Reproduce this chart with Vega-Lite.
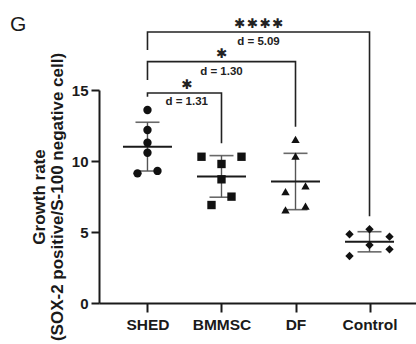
{
  "$schema": "https://vega.github.io/schema/vega-lite/v6.json",
  "width": 319,
  "height": 213,
  "autosize": {"type": "none"},
  "padding": {"left": 99, "top": 90, "right": 0, "bottom": 41},
  "background": "white",
  "config": {
    "view": {"stroke": null},
    "font": "Liberation Sans",
    "title": {"fontSize": 21, "fontWeight": "normal", "color": "#1a1a1a"}
  },
  "title": {"text": "G", "anchor": "start", "frame": "group", "dx": -89, "dy": 22},
  "datasets": {
    "cells": [
      {"group": "SHED", "lane": 0, "value": 13.59},
      {"group": "SHED", "lane": 0, "value": 12.18},
      {"group": "SHED", "lane": 0, "value": 11.29},
      {"group": "SHED", "lane": 0, "value": 10.58},
      {"group": "SHED", "lane": -1, "value": 9.13},
      {"group": "SHED", "lane": 1, "value": 9.30},
      {"group": "BMMSC", "lane": -2, "value": 10.30},
      {"group": "BMMSC", "lane": 0, "value": 9.79},
      {"group": "BMMSC", "lane": 2, "value": 10.30},
      {"group": "BMMSC", "lane": 0, "value": 8.71},
      {"group": "BMMSC", "lane": 1, "value": 7.49},
      {"group": "BMMSC", "lane": -1, "value": 6.90},
      {"group": "DF", "lane": 0, "value": 11.53},
      {"group": "DF", "lane": 0, "value": 10.35},
      {"group": "DF", "lane": 1, "value": 8.24},
      {"group": "DF", "lane": -1, "value": 7.84},
      {"group": "DF", "lane": 1, "value": 6.83},
      {"group": "DF", "lane": -1, "value": 6.55},
      {"group": "Control", "lane": -2, "value": 4.84},
      {"group": "Control", "lane": 0, "value": 5.19},
      {"group": "Control", "lane": 2, "value": 4.67},
      {"group": "Control", "lane": 0, "value": 4.08},
      {"group": "Control", "lane": 2, "value": 3.78},
      {"group": "Control", "lane": -2, "value": 3.31}
    ],
    "brackets": [
      {"pair": "BMMSC", "step": 0, "pos": 1, "y": 14.53},
      {"pair": "BMMSC", "step": 1, "pos": 1, "y": 14.79},
      {"pair": "BMMSC", "step": 2, "pos": 2, "y": 14.79},
      {"pair": "BMMSC", "step": 3, "pos": 2, "y": 11.25},
      {"pair": "DF", "step": 0, "pos": 1, "y": 15.70},
      {"pair": "DF", "step": 1, "pos": 1, "y": 17.0},
      {"pair": "DF", "step": 2, "pos": 3, "y": 17.0},
      {"pair": "DF", "step": 3, "pos": 3, "y": 12.42},
      {"pair": "Control", "step": 0, "pos": 1, "y": 17.82},
      {"pair": "Control", "step": 1, "pos": 1, "y": 19.08},
      {"pair": "Control", "step": 2, "pos": 4, "y": 19.08},
      {"pair": "Control", "step": 3, "pos": 4, "y": 6.11}
    ],
    "labels": [
      {"pair": "BMMSC", "mid": 1.53, "stars": "✱", "starY": 15.35, "d": "d = 1.31", "dY": 14.15},
      {"pair": "DF", "mid": 2.0, "stars": "✱", "starY": 17.51, "d": "d = 1.30", "dY": 16.25},
      {"pair": "Control", "mid": 2.5, "stars": "✱\u200a✱\u200a✱\u200a✱", "starY": 19.65, "d": "d = 5.09", "dY": 18.36}
    ]
  },
  "layer": [
    {
      "data": {"name": "cells"},
      "encoding": {
        "x": {
          "field": "group", "type": "nominal",
          "scale": {"type": "point", "padding": 0.655, "domain": ["SHED", "BMMSC", "DF", "Control"]},
          "axis": {
            "title": null, "labelAngle": 0, "labelFontSize": 15.5, "labelFontWeight": "bold",
            "labelColor": "#1a1a1a", "labelPadding": 5, "tickSize": 9, "tickWidth": 2,
            "tickColor": "#1a1a1a", "domainColor": "#1a1a1a", "domainWidth": 2
          }
        },
        "y": {
          "field": "value", "type": "quantitative",
          "scale": {"domain": [0, 15], "nice": false, "zero": true},
          "axis": {
            "values": [0, 5, 10, 15], "grid": false,
            "title": ["Growth rate", "(SOX-2 positive/S-100 negative cell)"],
            "titleFontSize": 17, "titleFontWeight": "bold", "titleColor": "#1a1a1a",
            "titlePadding": 5, "titleLineHeight": 18,
            "labelFontSize": 15, "labelFontWeight": "bold", "labelColor": "#1a1a1a",
            "labelPadding": 3, "tickSize": 8, "tickWidth": 2, "tickColor": "#1a1a1a",
            "domainColor": "#1a1a1a", "domainWidth": 2
          }
        }
      },
      "layer": [
        {
          "mark": {"type": "errorbar", "extent": "stdev",
            "ticks": {"size": 24, "thickness": 1.6, "color": "#2a2a2a"},
            "rule": {"strokeWidth": 1.4, "color": "#555555"}},
          "encoding": {
            "x": {"field": "group", "type": "nominal"},
            "y": {"field": "value", "type": "quantitative"}
          }
        },
        {
          "mark": {"type": "tick", "size": 49, "thickness": 2, "color": "#1a1a1a"},
          "encoding": {"y": {"aggregate": "mean", "field": "value", "type": "quantitative"}}
        },
        {
          "mark": {"type": "point", "filled": true, "opacity": 1, "size": 70, "color": "#111111"},
          "encoding": {
            "xOffset": {"field": "lane", "type": "ordinal",
              "scale": {"type": "point", "domain": [-2, -1, 0, 1, 2], "range": [-20, 20], "padding": 0}},
            "shape": {"field": "group", "type": "nominal", "legend": null,
              "scale": {"domain": ["SHED", "BMMSC", "DF", "Control"], "range": ["circle", "square", "triangle-up", "diamond"]}}
          }
        }
      ]
    },
    {
      "layer": [
        {
          "data": {"name": "brackets"},
          "mark": {"type": "line", "color": "#222222", "strokeWidth": 1.6},
          "encoding": {
            "x": {"field": "pos", "type": "quantitative", "scale": {"domain": [0.345, 4.655], "nice": false, "zero": false}, "axis": null},
            "y": {"field": "y", "type": "quantitative", "scale": {"domain": [0, 15], "nice": false}},
            "detail": {"field": "pair"},
            "order": {"field": "step", "type": "quantitative"}
          }
        },
        {
          "data": {"name": "labels"},
          "mark": {"type": "text", "font": "DejaVu Sans", "fontWeight": "bold", "fontSize": 13.5, "baseline": "middle", "color": "#222222"},
          "encoding": {
            "x": {"field": "mid", "type": "quantitative"},
            "y": {"field": "starY", "type": "quantitative"},
            "text": {"field": "stars"}
          }
        },
        {
          "data": {"name": "labels"},
          "mark": {"type": "text", "font": "Liberation Sans", "fontWeight": "bold", "fontSize": 11.5, "baseline": "middle", "color": "#222222"},
          "encoding": {
            "x": {"field": "mid", "type": "quantitative"},
            "y": {"field": "dY", "type": "quantitative"},
            "text": {"field": "d"}
          }
        }
      ]
    }
  ],
  "resolve": {"scale": {"x": "independent"}}
}
